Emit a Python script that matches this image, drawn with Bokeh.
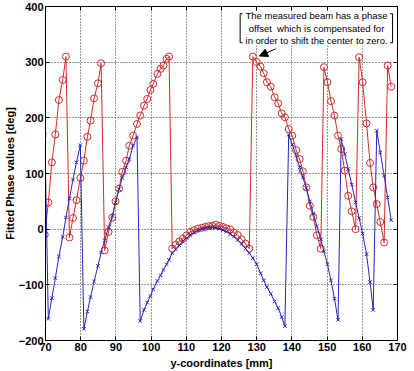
from bokeh.plotting import figure
from bokeh.models import Range1d, LinearAxis, FixedTicker, Arrow, NormalHead, BoxAnnotation, Label
from bokeh.embed import file_html
from bokeh.resources import INLINE

# ---- data ----
y_coord_mm = [69.8,
    70.8, 71.8, 72.8, 73.8, 74.9, 75.8,
    76.8, 77.8, 78.8, 79.9, 80.9, 81.9, 82.8, 83.8, 84.9, 85.8,
    86.8, 87.9, 89.0, 89.9, 90.9, 91.8, 92.9, 93.8, 94.9, 96.0,
    96.9, 98.0, 98.9, 99.8, 100.6, 101.8, 102.7, 103.5, 104.4, 105.1,
    106.0, 107.0, 108.0, 109.0, 110.1, 111.1, 112.2, 113.3, 114.4, 115.4,
    116.4, 117.4, 118.4, 119.4, 120.4, 121.4, 122.5, 123.5, 124.6, 125.7,
    126.8, 127.9,
    128.9, 130.0, 131.1, 132.0, 132.9, 134.0, 135.1, 136.1, 137.1, 138.0,
    139.1, 140.1, 141.2, 142.2, 143.1, 144.1, 145.1, 146.1, 147.1, 148.2,
    149.1, 150.1, 151.1, 152.1, 153.1, 154.0, 155.0, 156.0, 157.0, 158.1,
    159.1, 160.1, 161.2, 162.2, 163.1, 164.1, 165.1, 166.2,
    167.2, 168.2]

measured_phase = [-10,
    48, 120, 170, 232, 268, 310,
    -15, 20, 52, 92, 123, 166, 195, 235, 262, 298,
    -38, -5, 21, 50, 73, 103, 123, 150, 168, 189,
    204, 222, 234, 250, 261, 279, 288, 294, 306, 310,
    -35, -28, -22, -17, -11, -5, -2, 1, 2.5, 4,
    5.5, 6, 8, 6, 4, 1.5, -0.5, -6, -10.5, -18,
    -26, -35,
    310, 300, 292, 280, 264, 256, 237, 226, 208, 201,
    180, 168, 142, 126, 104, 75, 42, 22, -11, -35,
    291, 264, 230, 204, 168, 144, 105, 60, 32, 0,
    309, 264, 190, 119, 75, 45, 13, -24,
    294, 256]

fitted_phase = [170,
    -161, -124, -88, -49, -14, 21,
    55, 89, 120, 151, -179, -148, -122, -94, -66, -42,
    -20, 4, 24, 48, 72, 92, 111, 126, 150, 165,
    -165, -145, -132, -120, -108, -93, -83, -73, -63, -55,
    -43, -36, -29, -22, -16, -10.5, -6, -2.3, 0.4, 2,
    3, 3, 2.2, 0.8, -1.5, -4.5, -9, -13.5, -19.5, -26.5,
    -34.5, -43,
    -52, -63, -79, -92, -104, -116, -130, -142, -158, -174,
    170, 152, 132, 111, 93, 74, 50, 28, 5, -18,
    -40, -63, -92, -125, -163, 162, 135, 108, 80, 48,
    20, -8, -45, -95, -145, 177, 138, 96,
    57, 16]

x_ticks = [70, 80, 90, 100, 110, 120, 130, 140, 150, 160, 170]
y_ticks = [-200, -100, 0, 100, 200, 300, 400]

x_title = "y-coordinates [mm]"
y_title = "Fitted Phase values [deg]"
note_lines = ["The measured beam has a phase",
              "offset\u00a0 which is compensated for",
              "in order to shift the center to zero."]

# ---- style / layout constants ----
RED = "#d42a2a"
BLUE = "#2626b8"
FONT = "Liberation Sans"

p = figure(width=409, height=371, x_range=Range1d(70, 170), y_range=Range1d(-200, 400),
           output_backend="svg", toolbar_location=None,
           min_border_left=38, min_border_right=12, min_border_top=6, min_border_bottom=20,
           background_fill_color="white", border_fill_color="white")
p.outline_line_color = "black"
p.outline_line_width = 1

for ax, ticks in ((p.xaxis[0], x_ticks), (p.yaxis[0], y_ticks)):
    ax.ticker = FixedTicker(ticks=ticks)
    ax.major_tick_in = 4
    ax.major_tick_out = 0
    ax.minor_tick_in = 0
    ax.minor_tick_out = 0
    ax.axis_line_color = "black"
    ax.major_label_text_font = FONT
    ax.major_label_text_font_style = "bold"
    ax.major_label_text_font_size = "11px"
    ax.major_label_text_color = "black"
    ax.axis_label_text_font = FONT
    ax.axis_label_text_font_style = "bold"
    ax.axis_label_text_font_size = "11px"
    ax.axis_label_text_color = "black"
    ax.major_label_standoff = 2
    ax.axis_label_standoff = 0

p.xaxis.axis_label = x_title
p.xaxis.axis_label_standoff = 3
p.yaxis.axis_label = y_title

# inward ticks on the top and right edges (no labels)
for loc, ticks in (("above", x_ticks), ("right", y_ticks)):
    a = LinearAxis(ticker=FixedTicker(ticks=ticks), major_tick_in=4, major_tick_out=0,
                   minor_tick_in=0, minor_tick_out=0, axis_line_color=None,
                   major_label_overrides={t: "" for t in ticks},
                   major_label_text_font_size="1px", major_label_standoff=0,
                   axis_label_standoff=0)
    p.add_layout(a, loc)

for g, ticks in ((p.xgrid[0], x_ticks), (p.ygrid[0], y_ticks)):
    g.ticker = FixedTicker(ticks=ticks)
    g.grid_line_color = "#333333"
    g.grid_line_dash = "1 2"
    g.grid_line_width = 1

# series
p.line(y_coord_mm, measured_phase, line_color=RED, line_width=1)
p.scatter(y_coord_mm, measured_phase, marker="circle", size=7, fill_color=None,
          line_color=RED, line_width=1)
p.line(y_coord_mm, fitted_phase, line_color=BLUE, line_width=1)
p.scatter(y_coord_mm, fitted_phase, marker="x", size=5, line_color=BLUE, line_width=1)

# annotation box (white background, bracket edges, text, arrow)
box_l, box_r, box_t, box_b = 125.2, 168.9, 391.0, 330.0
p.add_layout(BoxAnnotation(left=box_l, right=box_r, top=box_t, bottom=box_b,
                           fill_color="white", fill_alpha=1.0, line_color=None, line_alpha=0,
                           level="annotation"))
br_left, br_right, br_top, br_bot, tick_len = 125.3, 168.6, 387.0, 334.8, 0.7
p.segment(x0=[br_left, br_left, br_left, br_right, br_right, br_right],
          y0=[br_top, br_top, br_bot, br_top, br_top, br_bot],
          x1=[br_left, br_left + tick_len, br_left + tick_len,
              br_right, br_right - tick_len, br_right - tick_len],
          y1=[br_bot, br_top, br_bot, br_bot, br_top, br_bot],
          line_color="black", line_width=1, level="overlay")
text_x = 147.0
text_ys = [383.2, 360.8, 338.6]
for t, ty in zip(note_lines, text_ys):
    p.add_layout(Label(x=text_x, y=ty, text=t, text_align="center", text_baseline="middle",
                       text_font=FONT, text_font_size="9.5px", text_color="black",
                       level="overlay"))

p.add_layout(Arrow(end=NormalHead(size=8, fill_color="black", line_color="black"),
                   x_start=135.4, y_start=324.0, x_end=130.8, y_end=311.0,
                   line_color="black", line_width=1, level="overlay"))

open("out.html", "w").write(file_html(p, INLINE))
